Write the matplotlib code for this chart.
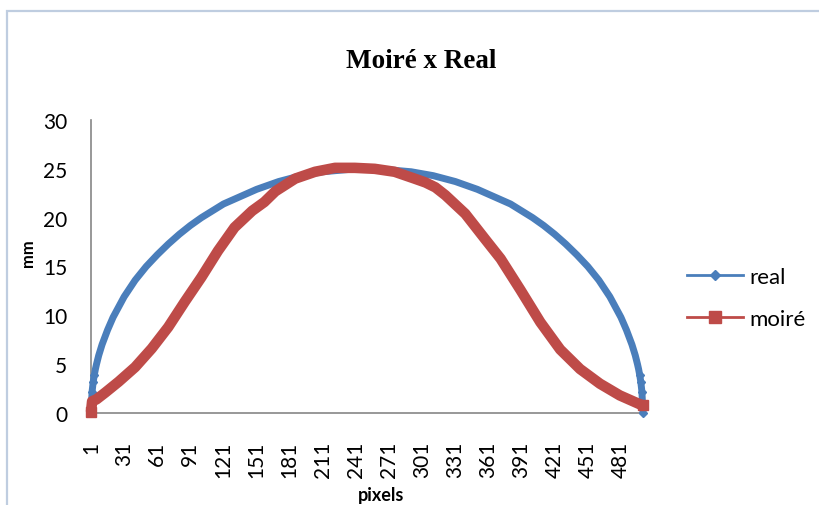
import matplotlib
matplotlib.use("Agg")
import matplotlib.pyplot as plt
from matplotlib.lines import Line2D
from matplotlib.patches import Rectangle

plt.rcParams['font.family'] = ['Lato', 'DejaVu Sans']

# ---- data ----
title = "Moiré x Real"
x_label = "pixels"
y_label = "mm"
series_names = ["real", "moiré"]

real_x = [1, 2, 3, 4, 5, 6, 8, 11, 16, 21,
          31, 41, 51, 61, 71, 81, 91, 101, 111, 121, 131, 141, 151, 161, 171,
          181, 191, 201, 211, 221, 231, 241, 251,
          261, 271, 281, 291, 301, 311, 321, 331, 341, 351, 361, 371, 381, 391,
          401, 411, 421, 431, 441, 451, 461, 471, 481,
          486, 491, 494, 496, 497, 498, 499, 500, 501]
real_y = [0, 2.2, 3.2, 3.9, 4.5, 5.0, 5.9, 7.0, 8.5, 9.8,
          11.9, 13.6, 15.0, 16.2, 17.3, 18.3, 19.2, 20.0, 20.7, 21.4, 21.9, 22.4, 22.9, 23.3, 23.7,
          24.0, 24.3, 24.5, 24.7, 24.8, 24.9, 25.0, 25.0,
          25.0, 24.9, 24.8, 24.7, 24.5, 24.3, 24.0, 23.7, 23.3, 22.9, 22.4, 21.9, 21.4, 20.7,
          20.0, 19.2, 18.3, 17.3, 16.2, 15.0, 13.6, 11.9, 9.8,
          8.5, 7.0, 5.9, 5.0, 4.5, 3.9, 3.2, 2.2, 0]

moire_x = [1, 2, 6, 14, 26, 41, 56, 71, 86, 101, 116, 131, 147, 158, 168, 186,
           204, 222, 240, 258, 276, 294, 304, 313, 322, 340, 358, 372, 390, 408,
           426, 444, 462, 480, 498, 501]
moire_y = [0.1, 1.2, 1.4, 2.1, 3.2, 4.7, 6.6, 8.8, 11.4, 13.9, 16.6, 19.0, 20.7, 21.6, 22.7, 24.0,
           24.7, 25.1, 25.1, 25.0, 24.7, 24.0, 23.6, 23.1, 22.3, 20.4, 17.8, 15.8, 12.6, 9.3,
           6.5, 4.5, 3.0, 1.8, 0.9, 0.8]

x_ticks = list(range(1, 482, 30))
y_ticks = [0, 5, 10, 15, 20, 25, 30]

blue = "#4A7EBB"
red = "#BE4B48"
axis_grey = "#868686"

W, H = 819, 506
fig = plt.figure(figsize=(W / 100, H / 100), dpi=100)
ax = fig.add_axes([91 / W, (H - 414) / H, (643 - 91) / W, (414 - 121) / H])

n_r = len(real_x)
ax.plot(real_x, real_y, color=blue, lw=5.0, marker='D', ms=4.2,
        markevery=[0, 1, 2, 3, n_r - 4, n_r - 3, n_r - 2, n_r - 1],
        solid_joinstyle='round', solid_capstyle='butt', clip_on=False, zorder=3)
n_m = len(moire_x)
ax.plot(moire_x, moire_y, color=red, lw=7.6, marker='s', ms=6.5,
        markevery=[0, n_m - 1],
        solid_joinstyle='round', solid_capstyle='butt', clip_on=False, zorder=4)

ax.set_xlim(1, 501)
ax.set_ylim(0, 30)
ax.set_xticks(x_ticks)
ax.set_xticklabels([str(t) for t in x_ticks], rotation=90, fontsize=15)
ax.set_yticks(y_ticks)
ax.set_yticklabels([str(t) for t in y_ticks], fontsize=15)
ax.tick_params(axis='x', length=0, pad=20)
ax.tick_params(axis='y', length=0, pad=17)

for s in ['top', 'right']:
    ax.spines[s].set_visible(False)
for s in ['left', 'bottom']:
    ax.spines[s].set_color(axis_grey)
    ax.spines[s].set_linewidth(1.2)

fig.text(421 / W, 1 - 62 / H, title, ha='center', va='center', fontsize=19.5,
         fontweight='bold', family=['Liberation Serif', 'DejaVu Serif'])
fig.text(28 / W, 1 - 253 / H, y_label, rotation=90, ha='center', va='center',
         fontsize=12, fontweight='bold')
fig.text(381 / W, 1 - 496 / H, x_label, ha='center', va='center',
         fontsize=13, fontweight='bold')

handles = [Line2D([], [], color=blue, lw=2, marker='D', ms=5),
           Line2D([], [], color=red, lw=2, marker='s', ms=8)]
fig.legend(handles, series_names, loc='center left',
           bbox_to_anchor=(676 / W, 1 - 299 / H), frameon=False, fontsize=16,
           handlelength=2.5, handletextpad=0.3, labelspacing=1.0, borderpad=0)

fig.patches.append(Rectangle((7 / W, -0.1), 1.2, (H - 12) / H + 0.1,
                             transform=fig.transFigure, fill=False,
                             edgecolor="#BFCDE0", lw=1.6))

fig.savefig("out.png", dpi=100)
